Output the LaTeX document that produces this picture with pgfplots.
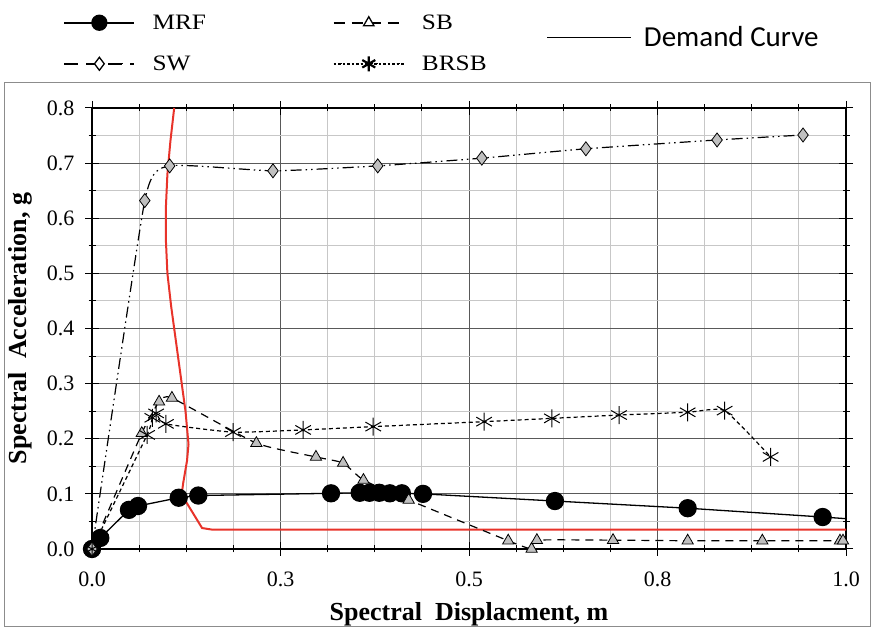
\documentclass[border=0pt]{standalone}
\usepackage{fontspec}
\setmainfont{Liberation Serif}
\newfontfamily\legfont{Liberation Serif}[FakeStretch=1.15]
\newfontfamily\calibri{Carlito}
\usepackage{pgfplots}
\pgfplotsset{compat=1.18}
\definecolor{demandred}{HTML}{E8332A}
\definecolor{markgray}{HTML}{C0C0C0}

\begin{document}
\begin{tikzpicture}[x=1bp,y=1bp]
\path (0,0) rectangle (874,629);
\draw[black!45, line width=1bp] (4,2) rectangle (870,546);
\begin{axis}[
  at={(92bp,80bp)}, anchor=south west,
  width=754bp, height=441bp, scale only axis,
  xmin=0, xmax=1, ymin=0, ymax=0.8,
  clip=false,
  xtick={0,0.25,0.5,0.75,1},
  xticklabels={0.0,0.3,0.5,0.8,1.0},
  minor xtick={0.0625,0.125,0.1875,0.3125,0.375,0.4375,0.5625,0.625,0.6875,0.8125,0.875,0.9375},
  ytick={0,0.1,0.2,0.3,0.4,0.5,0.6,0.7,0.8},
  yticklabels={0.0,0.1,0.2,0.3,0.4,0.5,0.6,0.7,0.8},
  minor ytick={0.05,0.15,0.25,0.35,0.45,0.55,0.65,0.75},
  grid=both,
  major grid style={black!65, line width=0.9bp},
  minor grid style={black!22, line width=0.9bp},
  tick align=center,
  major tick length=14bp, minor tick length=7bp,
  tick style={black, line width=1bp},
  axis line style={black, line width=1.2bp},
  tick label style={font=\fontsize{22bp}{24bp}\selectfont},
  xticklabel style={yshift=-12bp},
  yticklabel style={xshift=-7bp},
  xlabel={\bfseries Spectral\ \ Displacment, m},
  ylabel={\bfseries Spectral\ \ Acceleration, g},
  xlabel style={yshift=-9bp},
  ylabel style={yshift=8bp},
  label style={font=\fontsize{26bp}{28bp}\selectfont},
  legend columns=2,
  legend image code/.code={%
    \draw[#1, mark=none, line width=2.4bp] (0bp,0bp) -- (70bp,0bp);
    \path[#1, mark repeat=2, mark phase=2] plot coordinates {(0bp,0bp) (35bp,0bp) (70bp,0bp)};},
  legend style={at={(-0.0385,1.212)}, anchor=north west, draw=none, fill=none,
    font=\legfont\fontsize{22bp}{24bp}\selectfont,
    inner sep=0pt, row sep=25bp,
    nodes={inner sep=0pt, text width=180bp, align=left},
    /tikz/every odd column/.append style={column sep=17bp}},
]
% Demand curve
\addplot[demandred, line width=2bp, forget plot] coordinates {
(0.109,0.80) (0.104,0.74) (0.100,0.68) (0.098,0.62) (0.098,0.56) (0.100,0.50)
(0.105,0.44) (0.111,0.38) (0.118,0.31) (0.124,0.25) (0.128,0.19) (0.126,0.16)
(0.121,0.12) (0.119,0.10) (0.125,0.085) (0.146,0.038) (0.160,0.035) (1.0,0.035)};

% MRF tail to the frame
\addplot[black, line width=1.3bp, forget plot] coordinates {(0.969,0.058) (1.0,0.055)};
% MRF
\addplot[black, line width=1.3bp, mark=*, mark size=8.5bp,
  mark options={solid, fill=black},
  legend image post style={mark size=7.5bp}] coordinates {
(0,0) (0.011,0.020) (0.049,0.071) (0.061,0.078) (0.115,0.093) (0.141,0.097)
(0.317,0.101) (0.355,0.102) (0.368,0.102) (0.381,0.102) (0.395,0.101) (0.411,0.101)
(0.439,0.100) (0.614,0.087) (0.790,0.074) (0.969,0.058)};
\addlegendentry{MRF}

% SB
\addplot[black, line width=1.2bp, dash pattern=on 8bp off 6bp, smooth, tension=0.3,
  mark=triangle*, mark size=6.5bp, mark options={solid, fill=markgray, draw=black, line width=0.8bp},
  legend image post style={mark size=6bp, dash pattern=on 11bp off 7bp, mark options={solid, fill=white, draw=black, line width=1.3bp}}] coordinates {
(0,0) (0.066,0.210) (0.089,0.267) (0.106,0.274) (0.218,0.192) (0.297,0.167)
(0.333,0.156) (0.360,0.125) (0.420,0.089) (0.552,0.015) (0.583,0.0) (0.590,0.016)
(0.691,0.016) (0.790,0.015) (0.889,0.015) (0.992,0.015) (0.996,0.015)};
\addlegendentry{SB}

% SW
\addplot[black, line width=1.2bp, dash pattern=on 11bp off 4bp on 1.5bp off 4bp on 1.5bp off 4bp, smooth, tension=0.3,
  mark=diamond*, mark size=7bp, mark options={solid, fill=markgray, draw=black, line width=0.8bp},
  legend image post style={mark size=6.5bp, mark options={solid, fill=white, draw=black, line width=1.3bp}, dash pattern=on 14bp off 8bp}] coordinates {
(0,0) (0.070,0.632) (0.103,0.695) (0.240,0.686) (0.379,0.695) (0.517,0.709)
(0.655,0.726) (0.829,0.742) (0.943,0.751)};
\addlegendentry{SW}

% BRSB
\addplot[black, line width=1.2bp, dash pattern=on 4bp off 3bp, smooth, tension=0.3,
  mark=asterisk, mark size=9bp, mark options={solid, line width=1bp},
  legend image post style={mark size=7.5bp, dash pattern=on 2.5bp off 2bp, mark options={solid, line width=2.2bp}}] coordinates {
(0,0) (0.073,0.207) (0.080,0.238) (0.085,0.246) (0.098,0.227) (0.187,0.212)
(0.280,0.216) (0.373,0.222) (0.520,0.231) (0.610,0.237) (0.699,0.243)
(0.790,0.248) (0.839,0.251) (0.900,0.167)};
\addlegendentry{BRSB}
\end{axis}

\begin{axis}[
  at={(92bp,80bp)}, anchor=south west,
  width=754bp, height=441bp, scale only axis,
  xmin=0, xmax=1, ymin=0, ymax=0.8, hide axis,
  legend image code/.code={\draw[#1] (0bp,0bp) -- (84bp,0bp);},
  legend style={at={(0.602,1.185)}, anchor=north west, draw=none, fill=none,
    font=\calibri\fontsize{29bp}{31bp}\selectfont, inner sep=0pt,
    nodes={inner sep=0pt},
    /tikz/every odd column/.append style={column sep=12bp}},
]
\addlegendimage{black, line width=1.8bp}
\addlegendentry{Demand Curve}
\end{axis}
\end{tikzpicture}
\end{document}
